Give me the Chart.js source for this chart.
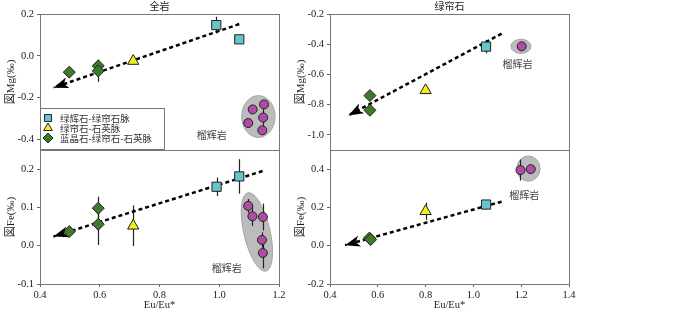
<!DOCTYPE html>
<html>
<head>
<meta charset="utf-8">
<script src="https://cdn.jsdelivr.net/npm/chart.js@4/dist/chart.umd.min.js"></script>
<style>
  body { margin: 0; background: #fff; width: 700px; height: 312px; position: relative; overflow: hidden; }
  canvas { position: absolute; }
</style>
</head>
<body>
<canvas id="cA" width="290" height="164" style="left:0;top:0"></canvas>
<canvas id="cB" width="290" height="176" style="left:0;top:136px"></canvas>
<canvas id="cC" width="290" height="164" style="left:290px;top:0"></canvas>
<canvas id="cD" width="290" height="176" style="left:290px;top:136px"></canvas>
<script>
// 坐标轴刻度
const xTicksL = [0.4, 0.6, 0.8, 1.0, 1.2];
const xTicksR = [0.4, 0.6, 0.8, 1.0, 1.2, 1.4];
const yTicksA = [-0.4, -0.2, 0.0, 0.2];
const yTicksB = [-0.1, 0.0, 0.1, 0.2];
const yTicksC = [-1.0, -0.8, -0.6, -0.4, -0.2];
const yTicksD = [-0.2, 0.0, 0.2, 0.4];

const seriesNames = ['绿辉石-绿帘石脉', '绿帘石-石英脉', '蓝晶石-绿帘石-石英脉', '榴辉岩'];

// (a) 全岩 Mg
const aSqX = [0.99, 1.067], aSqY = [0.147, 0.079], aSqE = [0.04, 0];
const aTriX = [0.712], aTriY = [-0.025], aTriE = [0.012];
const aDiaX = [0.498, 0.595, 0.595], aDiaY = [-0.078, -0.048, -0.072], aDiaE = [0, 0.03, 0.052];
const aGrtX = [1.150, 1.112, 1.147, 1.097, 1.144], aGrtY = [-0.232, -0.256, -0.295, -0.321, -0.356], aGrtE = [0, 0, 0.06, 0, 0];
const aTrend = [[1.067, 0.152], [0.445, -0.152]];

// (b) 全岩 Fe
const bSqX = [0.991, 1.067], bSqY = [0.154, 0.181], bSqE = [0.024, 0.045];
const bTriX = [0.712], bTriY = [0.052], bTriE = [0.053];
const bDiaX = [0.498, 0.595, 0.595], bDiaY = [0.037, 0.098, 0.056], bDiaE = [0, 0.03, 0.054];
const bGrtX = [1.097, 1.111, 1.146, 1.143, 1.146], bGrtY = [0.104, 0.077, 0.075, 0.015, -0.019], bGrtE = [0.018, 0.025, 0.035, 0.02, 0.04];
const bTrend = [[1.145, 0.195], [0.445, 0.024]];

// (c) 绿帘石 Mg
const cSqX = [1.053], cSqY = [-0.416], cSqE = [0.045];
const cTriX = [0.80], cTriY = [-0.705], cTriE = [0.012];
const cDiaX = [0.567, 0.567], cDiaY = [-0.74, -0.837], cDiaE = [0, 0];
const cGrtX = [1.202], cGrtY = [-0.414], cGrtE = [0];
const cTrend = [[1.118, -0.33], [0.477, -0.871]];

// (d) 绿帘石 Fe
const dSqX = [1.053], dSqY = [0.215], dSqE = [0.012];
const dTriX = [0.80], dTriY = [0.18], dTriE = [0.045];
const dDiaX = [0.565, 0.57], dDiaY = [0.04, 0.032], dDiaE = [0, 0];
const dGrtX = [1.197, 1.24], dGrtY = [0.395, 0.40], dGrtE = [0.055, 0];
const dTrend = [[1.118, 0.23], [0.463, 0.003]];

const styles = [
    { pointStyle: 'rect', radius: 6.5, bg: '#66c5c8' },
    { pointStyle: 'triangle', radius: 6.5, bg: '#f4ee1c' },
    { pointStyle: 'rectRot', radius: 6, bg: '#3d7a2c' },
    { pointStyle: 'circle', radius: 4.5, bg: '#b24aa6' }
];

const serif = '"Liberation Serif", "Noto Sans CJK SC", serif';
const cjk = '"Noto Sans CJK SC", sans-serif';

const pts = (xs, ys) => xs.map((x, i) => ({ x: x, y: ys[i] }));

const decor = {
    id: 'decor',
    beforeDatasetsDraw(chart, args, o) {
        const { ctx, scales: { x, y } } = chart;
        ctx.save();
        (o.blobs || []).forEach(b => {
            const cx = x.getPixelForValue(b.x), cy = y.getPixelForValue(b.y);
            const rx = Math.abs(x.getPixelForValue(b.x + b.rx) - cx);
            const ry = Math.abs(y.getPixelForValue(b.y + b.ry) - cy);
            ctx.beginPath();
            ctx.ellipse(cx, cy, rx, ry, (b.rot || 0) * Math.PI / 180, 0, Math.PI * 2);
            ctx.fillStyle = '#bcbcbc';
            ctx.fill();
            ctx.strokeStyle = '#a5a5a5';
            ctx.lineWidth = 1;
            ctx.stroke();
        });
        // 误差棒
        ctx.strokeStyle = '#222';
        ctx.lineWidth = 1.2;
        chart.data.datasets.forEach(ds => {
            if (!ds.err) return;
            ds.data.forEach((p, j) => {
                const e = ds.err[j];
                if (!e) return;
                const px = Math.round(x.getPixelForValue(p.x)) + 0.5;
                ctx.beginPath();
                ctx.moveTo(px, y.getPixelForValue(p.y + e));
                ctx.lineTo(px, y.getPixelForValue(p.y - e));
                ctx.stroke();
            });
        });
        ctx.restore();
    },
    afterDatasetsDraw(chart, args, o) {
        const { ctx, scales: { x, y } } = chart;
        chart.data.datasets.forEach(ds => {
            if (!ds.trend) return;
            const p0 = ds.data[0], p1 = ds.data[1];
            const tx = x.getPixelForValue(p1.x), ty = y.getPixelForValue(p1.y);
            const fx = x.getPixelForValue(p0.x), fy = y.getPixelForValue(p0.y);
            const a = Math.atan2(ty - fy, tx - fx);
            const L = 15, W = 5.5;
            const bx = tx - L * Math.cos(a), by = ty - L * Math.sin(a);
            const nx = -Math.sin(a), ny = Math.cos(a);
            ctx.save();
            ctx.fillStyle = '#000';
            ctx.beginPath();
            ctx.moveTo(tx, ty);
            ctx.lineTo(bx + nx * W, by + ny * W);
            ctx.lineTo(tx - (L - 4) * Math.cos(a), ty - (L - 4) * Math.sin(a));
            ctx.lineTo(bx - nx * W, by - ny * W);
            ctx.closePath();
            ctx.fill();
            ctx.restore();
        });
    },
    afterDraw(chart, args, o) {
        const { ctx, chartArea: c, scales: { x, y } } = chart;
        ctx.save();
        ctx.strokeStyle = '#777';
        ctx.lineWidth = 1;
        ctx.strokeRect(c.left + 0.5, c.top + 0.5, c.right - c.left, c.bottom - c.top);
        if (o.title) {
            ctx.fillStyle = '#222';
            ctx.font = '10px ' + cjk;
            ctx.textAlign = 'center';
            ctx.textBaseline = 'middle';
            ctx.fillText(o.title, (c.left + c.right) / 2, 6);
        }
        if (o.label) {
            ctx.fillStyle = '#444';
            ctx.font = '10px ' + cjk;
            ctx.textAlign = 'center';
            ctx.textBaseline = 'middle';
            ctx.fillText(seriesNames[3], x.getPixelForValue(o.label[0]), y.getPixelForValue(o.label[1]));
        }
        if (o.legend) {
            const L = c.left, B = c.bottom;
            ctx.fillStyle = '#fff';
            ctx.fillRect(L + 0.5, B - 41.5, 124, 41);
            ctx.strokeRect(L + 0.5, B - 41.5, 124, 41);
            for (let i = 0; i < 3; i++) {
                const yy = B - 32 + i * 10;
                ctx.fillStyle = styles[i].bg;
                ctx.strokeStyle = '#222';
                ctx.lineWidth = 1;
                Chart.helpers.drawPoint(ctx, { pointStyle: styles[i].pointStyle, radius: 5, rotation: 0, borderWidth: 1 }, L + 8, yy);
                ctx.fillStyle = '#333';
                ctx.font = '9.5px ' + cjk;
                ctx.textAlign = 'left';
                ctx.textBaseline = 'middle';
                ctx.fillText(seriesNames[i], L + 20, yy);
            }
        }
        ctx.restore();
    }
};

function makeChart(id, s) {
    const groups = [
        [s.sq, styles[0]], [s.tri, styles[1]], [s.dia, styles[2]], [s.grt, styles[3]]
    ];
    const datasets = groups.map(([g, st], i) => ({
        label: seriesNames[i],
        data: pts(g[0], g[1]),
        err: g[2],
        pointStyle: st.pointStyle,
        pointRadius: st.radius,
        backgroundColor: st.bg,
        borderColor: '#222',
        borderWidth: 1,
        showLine: false
    }));
    datasets.push({
        type: 'line',
        label: 'trend',
        trend: true,
        data: s.trend.map(p => ({ x: p[0], y: p[1] })),
        borderColor: '#000',
        borderWidth: 2.5,
        borderDash: [4, 3],
        pointRadius: 0,
        fill: false
    });
    const tickFont = { family: serif, size: 10.5 };
    return new Chart(document.getElementById(id), {
        type: 'scatter',
        data: { datasets: datasets },
        options: {
            responsive: false,
            animation: false,
            layout: { padding: { top: 14, right: 11, bottom: s.showX ? 0 : 14, left: 0 } },
            plugins: {
                legend: { display: false },
                tooltip: { enabled: false },
                decor: { title: s.title, blobs: s.blobs, label: s.label, legend: s.legend }
            },
            scales: {
                x: {
                    type: 'linear',
                    min: s.xTicks[0],
                    max: s.xTicks[s.xTicks.length - 1],
                    display: s.showX,
                    afterBuildTicks: sc => { sc.ticks = s.xTicks.map(v => ({ value: v })); },
                    afterFit: sc => { sc.height = s.showX ? 28 : 0; },
                    border: { display: false },
                    grid: { drawOnChartArea: false, tickLength: 3, color: '#666' },
                    ticks: { font: tickFont, color: '#222', padding: 2, maxRotation: 0, callback: v => Number(v).toFixed(1) },
                    title: { display: true, text: 'Eu/Eu*', font: { family: serif, size: 10.5 }, color: '#222', padding: { top: 0, bottom: 0 } }
                },
                y: {
                    type: 'linear',
                    min: s.yMin,
                    max: s.yMax,
                    afterBuildTicks: sc => { sc.ticks = s.yTicks.map(v => ({ value: v })); },
                    afterFit: sc => { sc.width = 40; },
                    border: { display: false },
                    grid: { drawOnChartArea: false, tickLength: 3, color: '#666' },
                    ticks: { font: tickFont, color: '#222', padding: 3, callback: v => Number(v).toFixed(1) },
                    title: { display: true, text: s.yTitle, font: { family: serif, size: 11 }, color: '#222', padding: { top: 5, bottom: 2 } }
                }
            }
        },
        plugins: [decor]
    });
}

window.onload = () => {
    makeChart('cA', {
        showX: false, title: '全岩', legend: true,
        xTicks: xTicksL, yTicks: yTicksA, yMin: -0.45, yMax: 0.2, yTitle: '図Mg(‰)',
        sq: [aSqX, aSqY, aSqE], tri: [aTriX, aTriY, aTriE], dia: [aDiaX, aDiaY, aDiaE], grt: [aGrtX, aGrtY, aGrtE],
        trend: aTrend,
        blobs: [{ x: 1.131, y: -0.29, rx: 0.056, ry: 0.1 }],
        label: [0.975, -0.377]
    });
    makeChart('cB', {
        showX: true,
        xTicks: xTicksL, yTicks: yTicksB, yMin: -0.1, yMax: 0.25, yTitle: '図Fe(‰)',
        sq: [bSqX, bSqY, bSqE], tri: [bTriX, bTriY, bTriE], dia: [bDiaX, bDiaY, bDiaE], grt: [bGrtX, bGrtY, bGrtE],
        trend: bTrend,
        blobs: [{ x: 1.126, y: 0.036, rx: 0.044, ry: 0.105, rot: -13 }],
        label: [1.025, -0.059]
    });
    makeChart('cC', {
        showX: false, title: '绿帘石',
        xTicks: xTicksR, yTicks: yTicksC, yMin: -1.1, yMax: -0.2, yTitle: '図Mg(‰)',
        sq: [cSqX, cSqY, cSqE], tri: [cTriX, cTriY, cTriE], dia: [cDiaX, cDiaY, cDiaE], grt: [cGrtX, cGrtY, cGrtE],
        trend: cTrend,
        blobs: [{ x: 1.199, y: -0.414, rx: 0.042, ry: 0.047 }],
        label: [1.185, -0.533]
    });
    makeChart('cD', {
        showX: true,
        xTicks: xTicksR, yTicks: yTicksD, yMin: -0.2, yMax: 0.5, yTitle: '図Fe(‰)',
        sq: [dSqX, dSqY, dSqE], tri: [dTriX, dTriY, dTriE], dia: [dDiaX, dDiaY, dDiaE], grt: [dGrtX, dGrtY, dGrtE],
        trend: dTrend,
        blobs: [{ x: 1.23, y: 0.403, rx: 0.049, ry: 0.066 }],
        label: [1.213, 0.264]
    });
};
</script>
</body>
</html>
